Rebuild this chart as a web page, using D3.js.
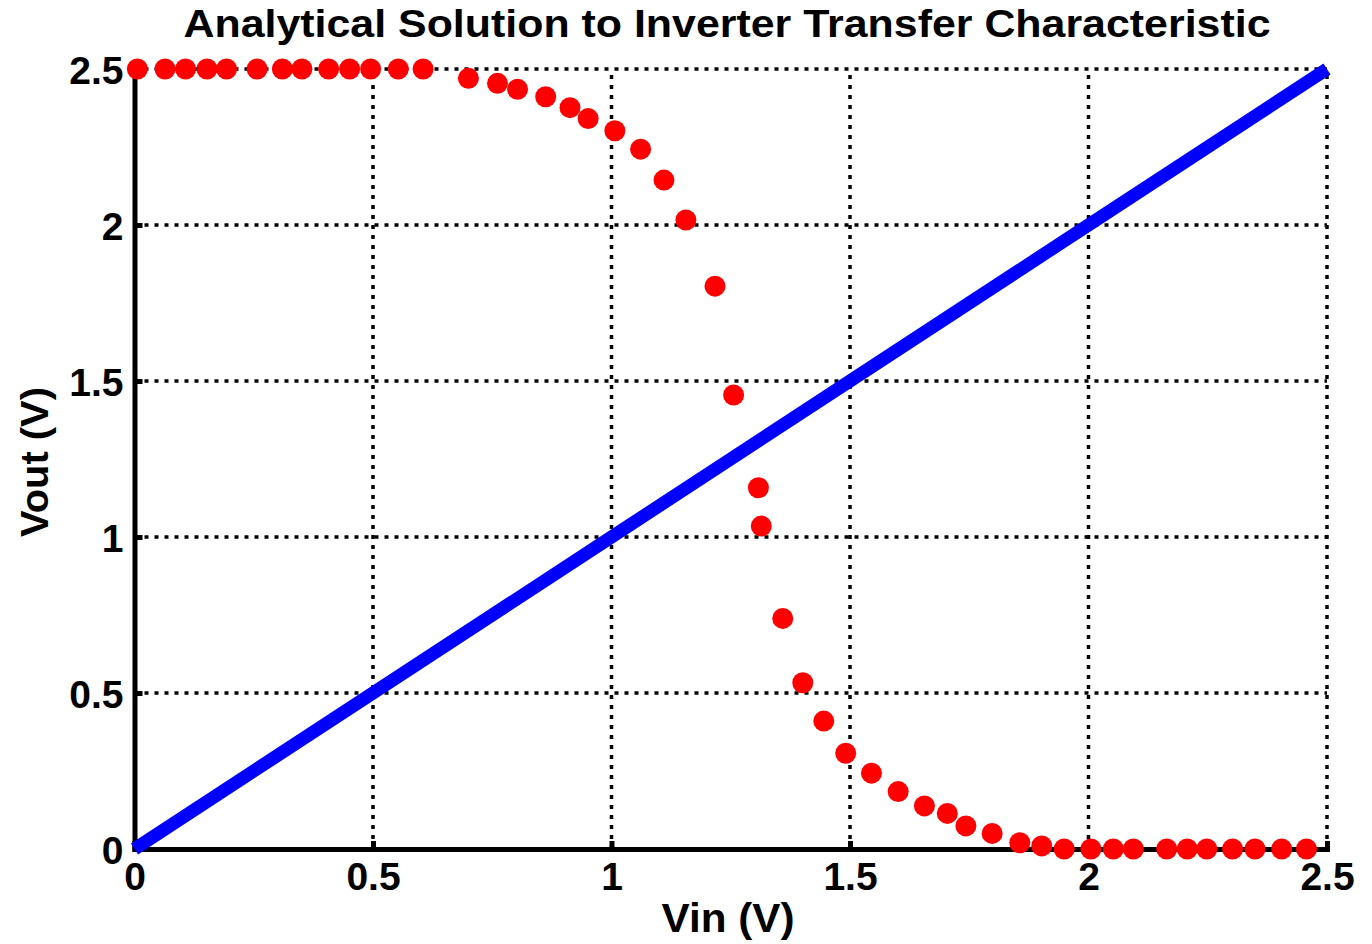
<!DOCTYPE html>
<html>
<head>
<meta charset="utf-8">
<script src="https://cdn.jsdelivr.net/npm/d3@7"></script>
<style>
  html, body { margin: 0; padding: 0; background: #fff; }
  svg { display: block; }
  text { font-family: "Liberation Sans", Arial, sans-serif; font-weight: bold; fill: #000; }
</style>
</head>
<body>
<svg id="chart" width="1372" height="944"></svg>
<script>
// Analytical inverter solution: Vout sampled at each Vin
const vinPoints = [0.006, 0.064, 0.107, 0.152, 0.193, 0.257, 0.310, 0.351, 0.407, 0.451, 0.495, 0.553, 0.605,
  0.700, 0.761, 0.803, 0.862, 0.913, 0.951, 1.007, 1.061, 1.110, 1.156,
  1.217, 1.256, 1.308, 1.314, 1.359, 1.401, 1.445,
  1.491, 1.545, 1.601, 1.656, 1.704, 1.743, 1.798, 1.856, 1.902, 1.949,
  2.005, 2.052, 2.094, 2.164, 2.207, 2.248, 2.302, 2.349, 2.405, 2.457];
const voutPoints = [2.5, 2.5, 2.5, 2.5, 2.5, 2.5, 2.5, 2.5, 2.5, 2.5, 2.5, 2.5, 2.5,
  2.470, 2.454, 2.435, 2.411, 2.376, 2.341, 2.302, 2.243, 2.144, 2.016,
  1.804, 1.455, 1.158, 1.035, 0.739, 0.533, 0.410,
  0.307, 0.243, 0.184, 0.138, 0.114, 0.074, 0.050, 0.020, 0.010, 0.0,
  0, 0, 0, 0, 0, 0, 0, 0, 0, 0];

// Reference line Vout = Vin
const refVin  = [0, 0.5, 1, 1.5, 2, 2.5];
const refVout = [0, 0.5, 1, 1.5, 2, 2.5];

const xTicks = [0, 0.5, 1, 1.5, 2, 2.5];
const yTicks = [0, 0.5, 1, 1.5, 2, 2.5];
const xTickLabels = ["0", "0.5", "1", "1.5", "2", "2.5"];
const yTickLabels = ["0", "0.5", "1", "1.5", "2", "2.5"];

const svg = d3.select("#chart");
const margin = { left: 134.5, right: 45, top: 69, bottom: 95 };
const W = 1372, H = 944;

const x = d3.scaleLinear().domain([0, 2.5]).range([margin.left, W - margin.right]);
const y = d3.scaleLinear().domain([0, 2.5]).range([H - margin.bottom, margin.top]);

// dotted grid
const grid = svg.append("g");
grid.selectAll("line.gx").data(xTicks.slice(1)).join("line")
  .attr("x1", d => x(d)).attr("x2", d => x(d))
  .attr("y1", y(0)).attr("y2", y(2.5))
  .attr("stroke", "#000").attr("stroke-width", 3.5).attr("stroke-dasharray", "4,6");
grid.selectAll("line.gy").data(yTicks.slice(1)).join("line")
  .attr("y1", d => y(d)).attr("y2", d => y(d))
  .attr("x1", x(0)).attr("x2", x(2.5))
  .attr("stroke", "#000").attr("stroke-width", 3.5).attr("stroke-dasharray", "4,6");

// axes
const xAxis = d3.axisBottom(x).tickValues(xTicks).tickFormat((d, i) => xTickLabels[i]).tickSizeInner(-8).tickSizeOuter(0).tickPadding(13);
const yAxis = d3.axisLeft(y).tickValues(yTicks).tickFormat((d, i) => yTickLabels[i]).tickSizeInner(-8).tickSizeOuter(0).tickPadding(11);

const gx = svg.append("g").attr("transform", `translate(0,${y(0)})`).call(xAxis);
const gy = svg.append("g").attr("transform", `translate(${x(0)},0)`).call(yAxis);
[gx, gy].forEach(g => {
  g.select(".domain").attr("stroke", "#000").attr("stroke-width", 5).attr("stroke-linecap", "square");
  g.selectAll(".tick line").attr("stroke", "#000").attr("stroke-width", 5);
  g.selectAll(".tick text").style("font-size", "39px").style("font-weight", "bold")
    .style("font-family", "'Liberation Sans', Arial, sans-serif").attr("fill", "#000");
});
gx.selectAll(".tick text").attr("dy", "0.71em");
gy.selectAll(".tick text").attr("dy", "0.36em");

// Vout = Vin reference line
svg.append("path")
  .datum(refVin.map((v, i) => [v, refVout[i]]))
  .attr("fill", "none").attr("stroke", "#0000ff").attr("stroke-width", 13)
  .attr("d", d3.line().x(d => x(d[0])).y(d => y(d[1])));

// computed transfer characteristic
svg.append("g").selectAll("circle")
  .data(vinPoints.map((v, i) => [v, voutPoints[i]]))
  .join("circle")
  .attr("cx", d => x(d[0])).attr("cy", d => y(d[1])).attr("r", 10.5)
  .attr("fill", "#ff0000");

// labels
svg.append("text").attr("x", 727).attr("y", 37).attr("text-anchor", "middle")
  .attr("textLength", 1087).attr("lengthAdjust", "spacingAndGlyphs")
  .style("font-size", "39px").text("Analytical Solution to Inverter Transfer Characteristic");
svg.append("text").attr("x", 728).attr("y", 932).attr("text-anchor", "middle")
  .attr("textLength", 133).attr("lengthAdjust", "spacingAndGlyphs")
  .style("font-size", "40px").text("Vin (V)");
svg.append("text").attr("transform", "translate(48,462) rotate(-90)").attr("text-anchor", "middle")
  .attr("textLength", 150).attr("lengthAdjust", "spacingAndGlyphs")
  .style("font-size", "39px").text("Vout (V)");
</script>
</body>
</html>
